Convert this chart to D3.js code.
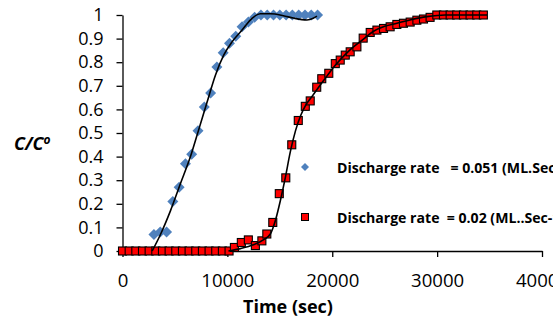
<!DOCTYPE html>
<html>
<head>
<meta charset="utf-8">
<script src="https://cdn.jsdelivr.net/npm/d3@7/dist/d3.min.js"></script>
<style>
  body { margin: 0; background: #fff; }
  svg { display: block; font-family: "Open Sans", sans-serif; }
</style>
</head>
<body>
<div id="chart"></div>
<script>
// Discharge rate 0.051 - measured points
const blueTime = [3000, 3600, 4200, 4800, 5400, 6000, 6600, 7200, 7800, 8400, 9000, 9600, 10200,
  10800, 11400, 12000, 12600, 13200, 13800, 14400, 15000, 15600, 16200, 16800, 17400, 18000, 18600];
const blueConc = [0.07, 0.08, 0.08, 0.21, 0.27, 0.37, 0.41, 0.51, 0.61, 0.67, 0.78, 0.84, 0.88,
  0.91, 0.95, 0.97, 0.99, 1, 1, 1, 1, 1, 1, 1, 1, 1, 1];

// trend line
const blueFitTime = [2830, 3620, 4570, 5520, 6480, 7240, 8060, 8860, 9650, 10440, 11400, 12350,
  13140, 14100, 15330, 16290, 17590, 18190, 18540];
const blueFitConc = [0, 0.07, 0.17, 0.285, 0.40, 0.51, 0.63, 0.745, 0.83, 0.886, 0.936, 0.986,
  1.005, 1.005, 0.997, 0.987, 0.979, 0.986, 0.995];

// Discharge rate 0.02 - measured points
const redTime = [0, 635, 1270, 1905, 2540, 3175, 3810, 4445, 5080, 5715, 6350, 6985, 7620, 8255,
  8890, 9525, 10160, 10670, 11330, 12000, 12670, 13290, 13760, 14330, 14950, 15570, 16140, 16760,
  17430, 17900, 18520, 19000, 19670, 20290, 20760, 21240, 21710, 22350, 22950, 23620, 24260, 24890,
  25520, 26160, 26790, 27430, 28070, 28700, 29330, 29970, 30600, 31240, 31870, 32510, 33140, 33780, 34410];
const redConc = [0, 0, 0, 0, 0, 0, 0, 0, 0, 0, 0, 0, 0, 0,
  0, 0, 0, 0.015, 0.036, 0.047, 0.023, 0.043, 0.072, 0.121, 0.243, 0.31, 0.45, 0.553,
  0.613, 0.636, 0.694, 0.73, 0.753, 0.794, 0.809, 0.83, 0.844, 0.865, 0.902, 0.926, 0.936, 0.943,
  0.95, 0.96, 0.965, 0.97, 0.978, 0.983, 0.99, 1, 1, 1, 1, 1, 1, 1, 1];

const redFitTime = [10100, 11240, 12480, 13430, 14100, 14570, 15050, 15520, 16000, 16500, 17000,
  17500, 18070, 19140, 20290, 21520, 22950, 23900, 25000, 26160, 27500, 29020, 30760, 34760];
const redFitConc = [0, 0.01, 0.026, 0.047, 0.072, 0.128, 0.213, 0.31, 0.42, 0.51, 0.575,
  0.62, 0.655, 0.72, 0.787, 0.845, 0.897, 0.93, 0.952, 0.965, 0.98, 0.993, 1, 1];

const xTicks = [0, 10000, 20000, 30000, 40000];
const yTicks = [0, 0.1, 0.2, 0.3, 0.4, 0.5, 0.6, 0.7, 0.8, 0.9, 1];
const yTickLabels = ["0", "0.1", "0.2", "0.3", "0.4", "0.5", "0.6", "0.7", "0.8", "0.9", "1"];
const legendLabels = ["Discharge rate   = 0.051 (ML.Sec-1)", "Discharge rate  = 0.02 (ML..Sec-1)"];

const W = 553, H = 325;

const svg = d3.select("#chart")
  .append("svg")
    .attr("width", W)
    .attr("height", H);

const x = d3.scaleLinear().domain([0, 40000]).range([122.5, 542]);
const y = d3.scaleLinear().domain([0, 1]).range([251, 15]);

const zip = (a, b) => a.map((v, i) => [v, b[i]]);

// axes
const yAxis = svg.append("g")
  .attr("transform", "translate(" + x(0) + ",0)")
  .call(d3.axisLeft(y).tickValues(yTicks).tickFormat((d, i) => yTickLabels[i])
    .tickSize(6).tickPadding(13).tickSizeOuter(0));

const xAxis = svg.append("g")
  .attr("transform", "translate(0," + y(0) + ")")
  .call(d3.axisBottom(x).tickValues(xTicks).tickFormat(d3.format("d"))
    .tickSize(6).tickPadding(17).tickSizeOuter(0));

[xAxis, yAxis].forEach(g => {
  g.select(".domain").attr("stroke", "#000").attr("stroke-width", 1.3);
  g.selectAll(".tick line").attr("stroke", "#000").attr("stroke-width", 1.3);
  g.selectAll("text").attr("font-family", "Open Sans").attr("font-size", 18).attr("fill", "#000");
});
xAxis.selectAll("text").attr("font-size", 18.6);

// markers
const diamond = "M0,-5.5L5.5,0L0,5.5L-5.5,0Z";

svg.append("g")
  .selectAll("path")
  .data(zip(blueTime, blueConc))
  .enter()
  .append("path")
    .attr("d", diamond)
    .attr("transform", d => "translate(" + x(d[0]) + "," + y(d[1]) + ")")
    .attr("fill", "#4f81bd");

svg.append("g")
  .selectAll("rect")
  .data(zip(redTime, redConc))
  .enter()
  .append("rect")
    .attr("x", d => x(d[0]) - 4)
    .attr("y", d => y(d[1]) - 4)
    .attr("width", 8)
    .attr("height", 8)
    .attr("fill", "#ff0000")
    .attr("stroke", "#000")
    .attr("stroke-width", 1.1);

// trend lines
const line = d3.line()
  .x(d => x(d[0]))
  .y(d => y(d[1]))
  .curve(d3.curveMonotoneX);

svg.append("path")
  .datum(zip(blueFitTime, blueFitConc))
  .attr("d", line)
  .attr("fill", "none")
  .attr("stroke", "#000")
  .attr("stroke-width", 1.6);

svg.append("path")
  .datum(zip(redFitTime, redFitConc))
  .attr("d", line)
  .attr("fill", "none")
  .attr("stroke", "#000")
  .attr("stroke-width", 1.6);

// axis titles
svg.append("text")
  .attr("x", 288)
  .attr("y", 313)
  .attr("text-anchor", "middle")
  .attr("font-size", 18)
  .attr("font-weight", "bold")
  .text("Time (sec)");

const yt = svg.append("text")
  .attr("x", 14)
  .attr("y", 150)
  .attr("font-size", 18)
  .attr("font-weight", "bold")
  .attr("font-style", "italic");
yt.append("tspan").text("C/C");
yt.append("tspan").attr("font-size", 12).attr("dy", -6).text("o");

// legend
const legend = svg.append("g");
legend.append("path")
  .attr("d", "M0,-4L4,0L0,4L-4,0Z")
  .attr("transform", "translate(305,167)")
  .attr("fill", "#4f81bd");
legend.append("rect")
  .attr("x", 301.5).attr("y", 213.5)
  .attr("width", 7).attr("height", 7)
  .attr("fill", "#ff0000").attr("stroke", "#000").attr("stroke-width", 1);
legend.selectAll("text")
  .data(legendLabels)
  .enter()
  .append("text")
    .attr("x", 337)
    .attr("y", (d, i) => 172.5 + i * 50)
    .attr("font-size", 14.1)
    .attr("font-weight", "bold")
    .style("white-space", "pre")
    .text(d => d);
</script>
</body>
</html>
